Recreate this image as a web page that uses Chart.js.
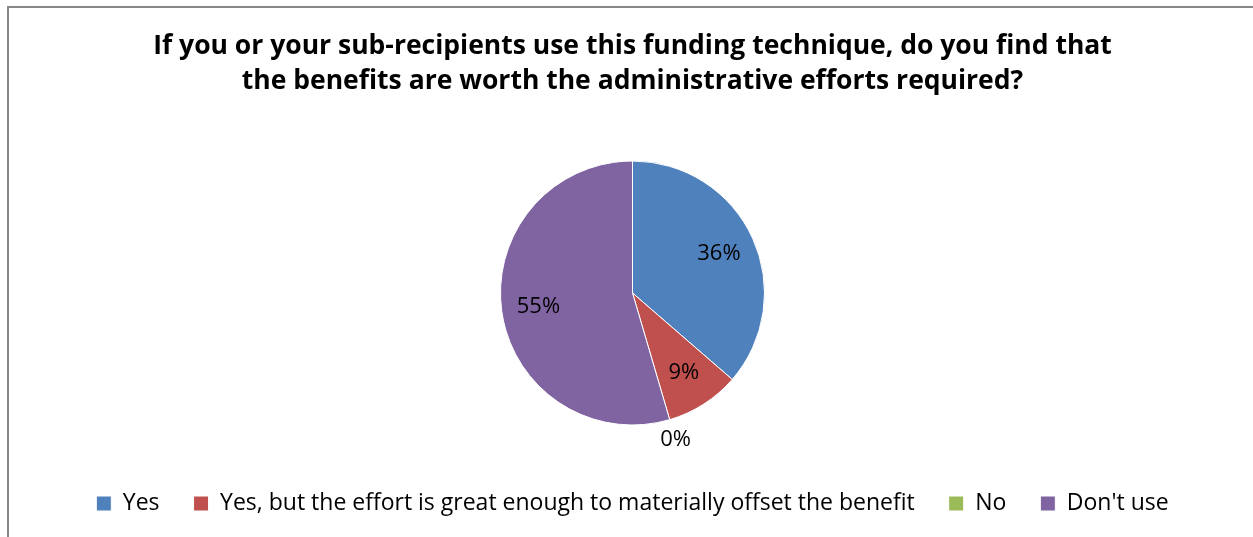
<!DOCTYPE html>
<html>
<head>
<meta charset="utf-8">
<script src="https://cdn.jsdelivr.net/npm/chart.js@4/dist/chart.umd.min.js"></script>
<style>
  html, body { margin: 0; padding: 0; background: #fff; }
  #wrap { position: relative; width: 1253px; height: 537px; }
</style>
</head>
<body>
<div id="wrap"><canvas id="c" width="1253" height="537"></canvas></div>
<script>
// Survey answers
const categories = [
  'Yes',
  'Yes, but the effort is great enough to materially offset the benefit',
  'No',
  "Don't use"
];
const responses = [4, 1, 0, 6];
const sliceColors = ['#4F81BD', '#C0504D', '#9BBB59', '#8064A2'];
const titleLines = [
  'If you or your sub-recipients use this funding technique, do you find that',
  'the benefits are worth the administrative efforts required?'
];

const FONT = '"Open Sans", "Liberation Sans", sans-serif';

// Grey frame around the chart
const framePlugin = {
  id: 'frame',
  beforeDraw(chart) {
    const ctx = chart.ctx;
    ctx.save();
    ctx.strokeStyle = '#888888';
    ctx.lineWidth = 2;
    ctx.strokeRect(8, 7, chart.width + 20, chart.height + 20);
    ctx.restore();
  }
};

// Percentage labels on the slices; empty slices get their label just outside the rim
const pctLabels = {
  id: 'pctLabels',
  afterDatasetsDraw(chart) {
    const ctx = chart.ctx;
    const meta = chart.getDatasetMeta(0);
    const values = chart.data.datasets[0].data;
    const total = values.reduce((a, b) => a + b, 0);
    ctx.save();
    ctx.font = '22px ' + FONT;
    ctx.fillStyle = '#000';
    ctx.textAlign = 'center';
    ctx.textBaseline = 'middle';
    meta.data.forEach((arc, i) => {
      const p = arc.getProps(['x', 'y', 'startAngle', 'endAngle', 'outerRadius'], true);
      const mid = (p.startAngle + p.endAngle) / 2;
      const r = values[i] === 0 ? p.outerRadius + 21 : p.outerRadius * 0.72;
      const x = p.x + Math.cos(mid) * r;
      const y = p.y + Math.sin(mid) * r;
      ctx.fillText(Math.round(values[i] / total * 100) + '%', x, y);
    });
    ctx.restore();
  }
};

new Chart(document.getElementById('c'), {
  type: 'pie',
  data: {
    labels: categories,
    datasets: [{
      data: responses,
      backgroundColor: sliceColors,
      borderColor: '#ffffff',
      borderWidth: 1,
      radius: 132
    }]
  },
  options: {
    responsive: false,
    animation: false,
    layout: { padding: { left: 12, right: 0, top: 0, bottom: 12 } },
    plugins: {
      tooltip: { enabled: false },
      title: {
        display: true,
        text: titleLines,
        color: '#000',
        font: { family: FONT, size: 26.5, weight: 'bold', lineHeight: 35 / 26.5 },
        padding: { top: 29, bottom: 29 }
      },
      legend: {
        position: 'bottom',
        labels: {
          color: '#000',
          font: { family: FONT, size: 23 },
          boxWidth: 15,
          boxHeight: 15,
          padding: 34
        }
      }
    }
  },
  plugins: [framePlugin, pctLabels]
});
</script>
</body>
</html>
